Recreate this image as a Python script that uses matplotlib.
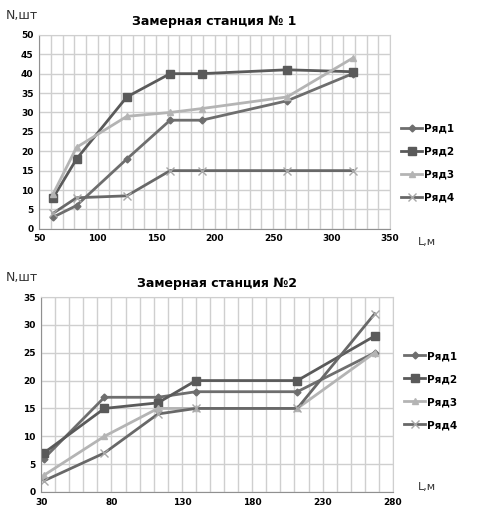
import matplotlib
matplotlib.use("Agg")
import matplotlib.pyplot as plt
from matplotlib.ticker import MultipleLocator

plt.rcParams['font.family'] = ['DejaVu Sans']

labels = ["Ряд1", "Ряд2", "Ряд3", "Ряд4"]
markers = ["D", "s", "^", "x"]
colors = ["#6e6e6e", "#5a5a5a", "#b4b4b4", "#686868"]
mcolors = ["#6e6e6e", "#5a5a5a", "#b4b4b4", "#a8a8a8"]
msizes = [3.5, 5.5, 5, 6]

# Station 1
x1 = [62, 82, 125, 162, 189, 262, 318]
s1_r1 = [3, 6, 18, 28, 28, 33, 40]
s1_r2 = [8, 18, 34, 40, 40, 41, 40.5]
s1_r3 = [9, 21, 29, 30, 31, 34, 44]
s1_r4 = [4, 8, 8.5, 15, 15, 15, 15]
xt1 = [50, 100, 150, 200, 250, 300, 350]

# Station 2
x2 = [32, 75, 113, 140, 212, 267]
s2_r1 = [6, 17, 17, 18, 18, 25]
s2_r2 = [7, 15, 16, 20, 20, 28]
s2_r3 = [3, 10, 15, 15, 15, 25]
s2_r4 = [2, 7, 14, 15, 15, 32]
xt2 = [30, 80, 130, 180, 230, 280]

fig = plt.figure(figsize=(4.95, 5.13), dpi=100)

def draw(ax, x, series, xticks, ylim, title, leg_y):
    for y, lab, m, c, mc, ms in zip(series, labels, markers, colors, mcolors, msizes):
        ax.plot(x, y, marker=m, color=c, mec=mc, mfc=mc, lw=2, ms=ms, mew=1.0, label=lab)
    ax.set_xlim(xticks[0], xticks[-1])
    ax.set_ylim(*ylim)
    ax.set_xticks(xticks)
    ax.xaxis.set_minor_locator(MultipleLocator(10))
    ax.yaxis.set_major_locator(MultipleLocator(5))
    ax.grid(True, which='both', color='#cfcfcf', lw=1)
    ax.set_axisbelow(True)
    for sp in ax.spines.values():
        sp.set_color('#cfcfcf')
    ax.spines['left'].set_color('#909090')
    ax.spines['bottom'].set_color('#909090')
    ax.tick_params(which='both', length=0, labelsize=6.5, pad=4)
    for t in ax.get_xticklabels() + ax.get_yticklabels():
        t.set_fontweight('bold')
    ax.set_title(title, fontsize=9, fontweight='bold', pad=7)
    ax.legend(loc='center left', bbox_to_anchor=(1.02, leg_y), frameon=False,
              prop={'size': 7.5, 'weight': 'bold'}, handlelength=2.0,
              labelspacing=1.25, handletextpad=0.2, borderaxespad=0)
    return ax

ax1 = fig.add_axes([0.079, 0.554, 0.709, 0.378])
draw(ax1, x1, [s1_r1, s1_r2, s1_r3, s1_r4], xt1, (0, 50),
     "Замерная станция № 1", 0.34)
fig.text(0.012, 0.962, "N,шт", fontsize=9, color='#333333')
fig.text(0.845, 0.522, "L,м", fontsize=8, color='#333333')

ax2 = fig.add_axes([0.083, 0.041, 0.711, 0.380])
draw(ax2, x2, [s2_r1, s2_r2, s2_r3, s2_r4], xt2, (0, 35),
     "Замерная станция №2", 0.52)
fig.text(0.012, 0.452, "N,шт", fontsize=9, color='#333333')
fig.text(0.845, 0.045, "L,м", fontsize=8, color='#333333')

fig.savefig("out.png", dpi=100, facecolor='white')
